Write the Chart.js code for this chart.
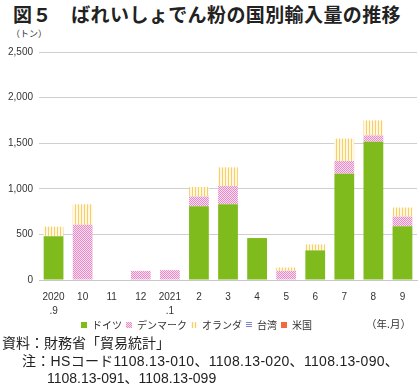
<!DOCTYPE html>
<html>
<head>
<meta charset="utf-8">
<script src="https://cdn.jsdelivr.net/npm/chart.js@4/dist/chart.umd.min.js"></script>
<style>
  body { margin: 0; background: #fff; }
  #wrap { position: relative; width: 420px; height: 386px; font-family: "Noto Sans CJK JP", sans-serif; color: #222; }
  #title { position: absolute; left: 13px; top: 0px; font-size: 19px; font-weight: bold; white-space: nowrap; letter-spacing: 0.4px; }
  #unit { position: absolute; left: 11px; top: 27px; font-size: 9px; color: #333; }
  #ym { position: absolute; left: 366px; top: 316px; font-size: 10.5px; color: #333; }
  .note { position: absolute; font-size: 14px; line-height: 18px; white-space: nowrap; font-family: "Liberation Sans", "Noto Sans CJK JP", sans-serif; }
  #box { position: absolute; left: 0; top: 40px; width: 420px; height: 312px; }
</style>
</head>
<body>
<div id="wrap">
  <div id="title">図５　ばれいしょでん粉の国別輸入量の推移</div>
  <div id="unit">（トン）</div>
  <div id="box"><canvas id="myChart"></canvas></div>
  <div id="ym">（年.月）</div>
  <div class="note" style="left:2px; top:334px;">資料：財務省「貿易統計」</div>
  <div class="note" style="left:22px; top:352px; letter-spacing:0.3px;">注：HSコード1108.13-010、1108.13-020、1108.13-090、</div>
  <div class="note" style="left:47px; top:369px;">1108.13-091、1108.13-099</div>
</div>
<script>
var months = [['2020', '.9'], '10', '11', '12', ['2021', '.1'], '2', '3', '4', '5', '6', '7', '8', '9'];
var germany     = [480, 0, 0, 0, 0, 810, 830, 460, 0, 325, 1165, 1515, 590];
var denmark     = [0, 605, 0, 100, 108, 105, 200, 0, 100, 0, 140, 70, 105];
var netherlands = [105, 225, 0, 0, 0, 105, 205, 0, 37, 65, 245, 165, 100];
var taiwan      = [0, 0, 0, 0, 0, 0, 0, 0, 0, 0, 0, 0, 0];
var usa         = [0, 0, 0, 0, 0, 0, 0, 0, 0, 0, 0, 0, 0];
var yMax = 2500;
var yStep = 500;

// small tiles used as bar fills
function makePattern(w, h, bg, fg, cells) {
  var c = document.createElement('canvas');
  c.width = w; c.height = h;
  var g = c.getContext('2d');
  g.fillStyle = bg;
  g.fillRect(0, 0, w, h);
  g.fillStyle = fg;
  cells.forEach(function(p) { g.fillRect(p[0], p[1], p[2], p[3]); });
  return g.createPattern(c, 'repeat');
}
var pinkDots = makePattern(2, 2, '#f9dcee', '#e68cc6', [[0, 0, 1, 1], [1, 1, 1, 1]]);
var yellowLines = makePattern(3, 1, '#fff7e0', '#f6cf68', [[0, 0, 1, 1]]);
var blueLines = makePattern(1, 2, '#ffffff', '#7f84d4', [[0, 0, 1, 1]]);

// nudge the legend left and up, as in the original
var legendShift = {
  id: 'legendShift',
  afterLayout: function(chart) {
    var lg = chart.legend;
    lg.left -= 13; lg.right -= 13;
    lg.top -= 12; lg.bottom -= 12;
  }
};

var ctx = document.getElementById('myChart');
var myChart = new Chart(ctx, {
  type: 'bar',
  data: {
    labels: months,
    datasets: [
      { label: 'ドイツ', data: germany, backgroundColor: '#7fbb1d' },
      { label: 'デンマーク', data: denmark, backgroundColor: pinkDots },
      { label: 'オランダ', data: netherlands, backgroundColor: yellowLines },
      { label: '台湾', data: taiwan, backgroundColor: blueLines },
      { label: '米国', data: usa, backgroundColor: '#ef6a3c' }
    ]
  },
  plugins: [legendShift],
  options: {
    responsive: true,
    maintainAspectRatio: false,
    animation: false,
    layout: { padding: { left: 2, right: 3, top: 4, bottom: 0 } },
    datasets: { bar: { barPercentage: 0.68, categoryPercentage: 1 } },
    plugins: {
      tooltip: { enabled: false },
      legend: {
        position: 'bottom',
        labels: {
          boxWidth: 6,
          boxHeight: 6,
          padding: 4,
          color: '#333',
          font: { family: '"Noto Sans CJK JP"', size: 10 }
        }
      }
    },
    scales: {
      x: {
        stacked: true,
        grid: { display: false, drawTicks: false },
        border: { display: true, color: '#c8c8c8' },
        ticks: {
          color: '#333',
          padding: 10,
          maxRotation: 0,
          autoSkip: false,
          font: { family: '"Liberation Sans"', size: 10, lineHeight: 1.4 }
        }
      },
      y: {
        stacked: true,
        min: 0,
        max: yMax,
        grid: { color: '#cfcfcf', drawTicks: false },
        border: { display: false },
        ticks: {
          stepSize: yStep,
          padding: 6,
          color: '#333',
          font: { family: '"Liberation Sans"', size: 10 },
          callback: function(value) {
            return value.toLocaleString('en-US');
          }
        }
      }
    }
  }
});
</script>
</body>
</html>
